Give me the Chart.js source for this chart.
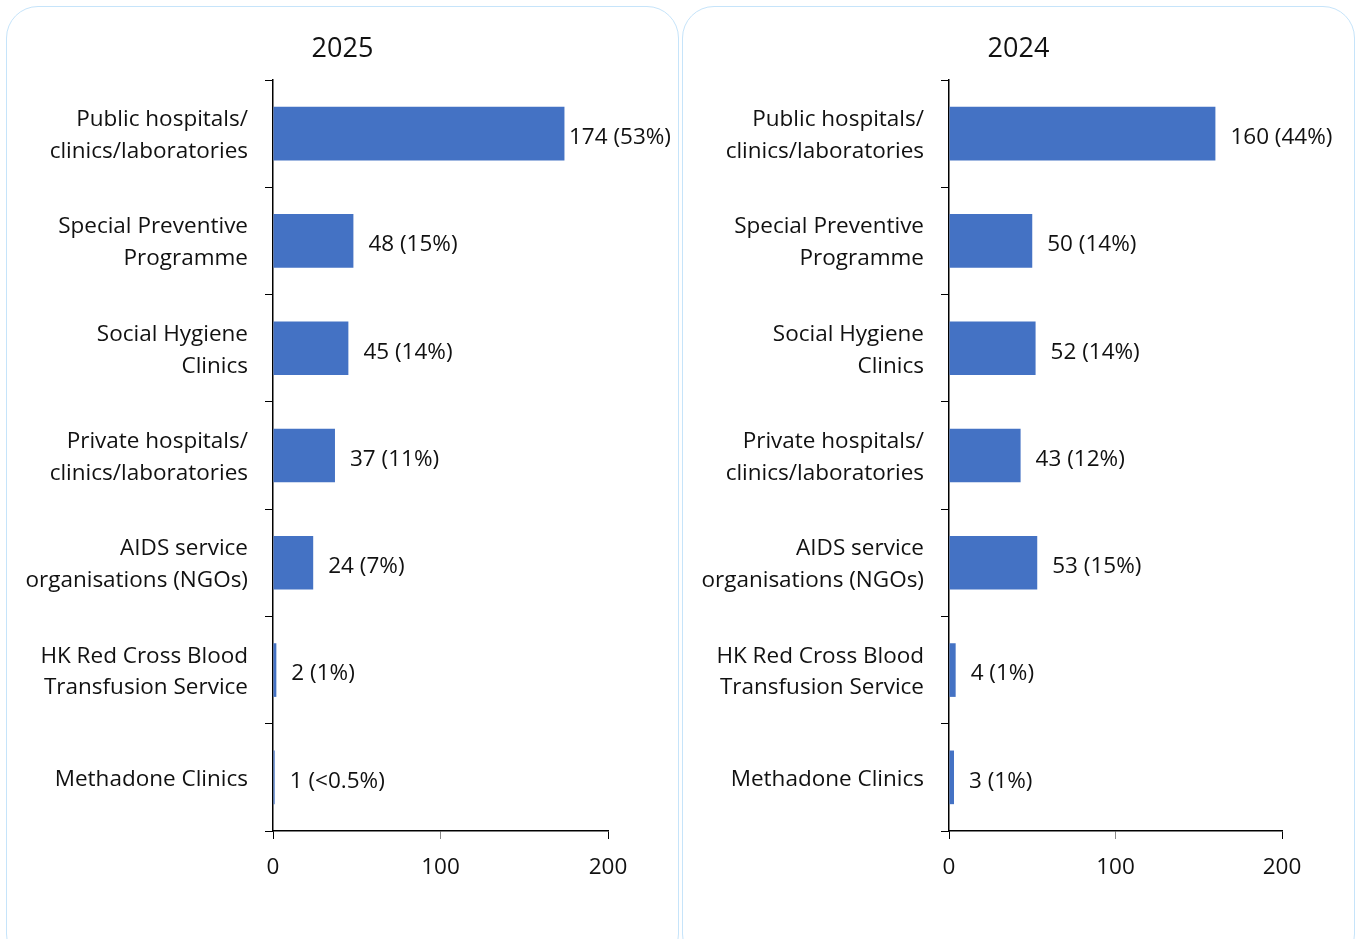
<!DOCTYPE html>
<html>
<head>
<meta charset="utf-8">
<script src="https://cdn.jsdelivr.net/npm/chart.js@4"></script>
<style>
  body { margin: 0; background: #fff; overflow: hidden; }
  .panel {
    position: absolute;
    top: 6px;
    width: 673px;
    height: 960px;
    border: 1.5px solid #c6e4fa;
    border-radius: 32px;
    box-sizing: border-box;
  }
  .panel canvas { position: absolute; left: -1.5px; top: -1.5px; }
</style>
</head>
<body>
<div class="panel" style="left:6px"><canvas id="chart2025" width="673" height="900"></canvas></div>
<div class="panel" style="left:682px"><canvas id="chart2024" width="673" height="900"></canvas></div>
<script>
// Categories (top to bottom)
const categories = [
    ['Public hospitals/', 'clinics/laboratories'],
    ['Special Preventive', 'Programme'],
    ['Social Hygiene', 'Clinics'],
    ['Private hospitals/', 'clinics/laboratories'],
    ['AIDS service', 'organisations (NGOs)'],
    ['HK Red Cross Blood', 'Transfusion Service'],
    ['Methadone Clinics']
];

// 2025 values
const values2025 = [174, 48, 45, 37, 24, 2, 1];
const labels2025 = ['174 (53%)', '48 (15%)', '45 (14%)', '37 (11%)', '24 (7%)', '2 (1%)', '1 (<0.5%)'];

// 2024 values
const values2024 = [160, 50, 52, 43, 53, 4, 3];
const labels2024 = ['160 (44%)', '50 (14%)', '52 (14%)', '43 (12%)', '53 (15%)', '4 (1%)', '3 (1%)'];

const xTicks = [0, 100, 200];

const FONT = "'Open Sans', 'Noto Sans', sans-serif";
const TEXT = '#111';

// Panel title centred on the whole canvas, value labels at bar ends
const panelText = {
    id: 'panelText',
    afterDatasetsDraw(chart) {
        const ctx = chart.ctx;
        const opts = chart.options.plugins.panelText;
        ctx.save();
        ctx.fillStyle = TEXT;
        ctx.textBaseline = 'middle';

        ctx.textAlign = 'center';
        ctx.font = '27px ' + FONT;
        ctx.fillText(opts.title, chart.width / 2, 43);

        ctx.textAlign = 'left';
        ctx.font = '22.5px ' + FONT;
        const meta = chart.getDatasetMeta(0);
        meta.data.forEach((bar, i) => {
            const w = ctx.measureText(opts.texts[i]).width;
            let x = bar.x + 15;
            if (x + w > chart.width - 8) x = Math.max(bar.x + 2, chart.width - 8 - w);
            ctx.fillText(opts.texts[i], x, bar.y + 4);
        });
        ctx.restore();
    }
};

function makeChart(id, title, values, texts, rightPad) {
    return new Chart(document.getElementById(id), {
        type: 'bar',
        data: {
            labels: categories,
            datasets: [{
                data: values,
                backgroundColor: '#4472C4',
                barPercentage: 0.5,
                categoryPercentage: 1.0
            }]
        },
        plugins: [panelText],
        options: {
            indexAxis: 'y',
            responsive: false,
            animation: false,
            layout: { padding: { left: 0, right: rightPad, top: 74, bottom: 0 } },
            plugins: {
                legend: { display: false },
                tooltip: { enabled: false },
                title: { display: false },
                panelText: { title: title, texts: texts }
            },
            scales: {
                x: {
                    min: 0,
                    max: 200,
                    afterBuildTicks: (scale) => { scale.ticks = xTicks.map(v => ({ value: v })); },
                    afterFit: (scale) => { scale.height = 75; },
                    grid: {
                        drawOnChartArea: false,
                        drawTicks: true,
                        tickLength: 8,
                        color: (c) => (c.tick && c.tick.value === 100 ? '#888' : '#000')
                    },
                    border: { display: true, color: '#000', width: 1.5 },
                    ticks: { color: TEXT, padding: 15, font: { family: FONT, size: 22.5 } }
                },
                y: {
                    afterFit: (scale) => { scale.width = 267; },
                    grid: { offset: true, drawOnChartArea: false, drawTicks: true, tickLength: 8, color: '#000' },
                    border: { display: true, color: '#000', width: 1.5 },
                    ticks: {
                        color: TEXT,
                        padding: 17,
                        labelOffset: 2,
                        font: { family: FONT, size: 22.5, lineHeight: 1.42 }
                    }
                }
            }
        }
    });
}

makeChart('chart2025', '2025', values2025, labels2025, 71);
makeChart('chart2024', '2024', values2024, labels2024, 73);
</script>
</body>
</html>
